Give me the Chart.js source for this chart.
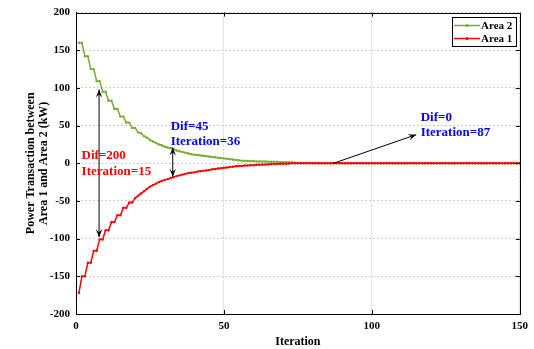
<!DOCTYPE html>
<html>
<head>
<meta charset="utf-8">
<script src="https://cdn.jsdelivr.net/npm/chart.js@4.4.0/dist/chart.umd.min.js"></script>
<style>
html, body { margin: 0; padding: 0; background: #fff; }
</style>
</head>
<body>
<canvas id="chart" width="534" height="349"></canvas>
<script>
var iterations = [1,2,3,4,5,6,7,8,9,10,11,12,13,14,15,16,17,18,19,20,21,22,23,24,25,26,27,28,29,30,
  31,32,33,34,35,36,37,38,39,40,41,42,43,44,45,46,47,48,49,50,51,52,53,54,55,56,57,58,59,60,
  61,62,63,64,65,66,67,68,69,70,71,72,73,74,75,76,77,78,79,80,81,82,83,84,85,86,87,88,89,90,
  91,92,93,94,95,96,97,98,99,100,101,102,103,104,105,106,107,108,109,110,111,112,113,114,115,116,117,118,119,120,
  121,122,123,124,125,126,127,128,129,130,131,132,133,134,135,136,137,138,139,140,141,142,143,144,145,146,147,148,149,150]

var area2 = [160,160,142,142,125,125,109,109,95,95,
  83,83,72,72,62,62,54,54,47,47,
  41,40,36,34,31,29,27,25,24,22,
  21,20,19,17,16,15,14,13,12,11.5,
  11,10.5,10,9.5,9,8.5,8,7.5,7,6.5,
  6,5.5,5,4.5,4,3.5,3.5,3,3,3,
  2.5,2.5,2.5,2.5,2,2,2,2,1.5,1.5,
  1.5,1,1,0.8,0.6,0.5,0.4,0.3,0.3,0.2,
  0.2,0.1,0.1,0.1,0.1,0,0,0,0,0,
  0,0,0,0,0,0,0,0,0,0,0,0,0,0,0,0,0,0,0,0,0,0,0,0,0,0,0,0,0,0,
  0,0,0,0,0,0,0,0,0,0,0,0,0,0,0,0,0,0,0,0,0,0,0,0,0,0,0,0,0,0]

var area1 = [-172,-150,-150,-132,-132,-116,-116,-101,-101,-89,
  -89,-78,-78,-69,-69,-59,-59,-52,-52,-46,
  -43,-40,-37,-34,-31,-29,-27,-25,-23.5,-22,
  -21,-19.5,-18.5,-17,-16,-15,-14,-13,-12.5,-12,
  -11,-10.5,-10,-9.5,-9,-8,-7.5,-7,-6.5,-6,
  -5.5,-5,-4.5,-4,-3.5,-3.5,-3,-3,-2.5,-2.5,
  -2,-2,-1.5,-1.5,-1.5,-1,-1,-1,-0.5,-0.5,
  -0.5,-0.3,0,0,0,0,0,0,0,0,
  0,0,0,0,0,0,0,0,0,0,
  0,0,0,0,0,0,0,0,0,0,0,0,0,0,0,0,0,0,0,0,0,0,0,0,0,0,0,0,0,0,
  0,0,0,0,0,0,0,0,0,0,0,0,0,0,0,0,0,0,0,0,0,0,0,0,0,0,0,0,0,0]

var yTitle = ['Power Transaction between', 'Area 1 and Area 2 (kW)']
var xTitle = 'Iteration'

// arrows and notes, in data units
var arrows = [
  { x1: 7.8, y1: -98, x2: 7.8, y2: 98, both: true },
  { x1: 32.7, y1: -18, x2: 32.7, y2: 21, both: true },
  { x1: 87, y1: 0, x2: 115, y2: 38, both: false }
]
var notes = [
  { x: 1.9, y: 10, text: 'Dif=200', color: '#ff0000' },
  { x: 1.9, y: -11, text: 'Iteration=15', color: '#ff0000' },
  { x: 32, y: 49, text: 'Dif=45', color: '#0000ff' },
  { x: 32, y: 29, text: 'Iteration=36', color: '#0000ff' },
  { x: 116.5, y: 60, text: 'Dif=0', color: '#0000ff' },
  { x: 116.5, y: 40.5, text: 'Iteration=87', color: '#0000ff' }
]

var serif = "'Liberation Serif', 'Times New Roman', serif"
var green = '#77ac30'
var red = '#ff0000'

function arrowHead(c, fx, fy, tx, ty) {
  var a = Math.atan2(ty - fy, tx - fx)
  var len = 8, w = 3.2
  c.beginPath()
  c.moveTo(tx, ty)
  c.lineTo(tx - len * Math.cos(a) + w * Math.sin(a), ty - len * Math.sin(a) - w * Math.cos(a))
  c.lineTo(tx - len * 0.6 * Math.cos(a), ty - len * 0.6 * Math.sin(a))
  c.lineTo(tx - len * Math.cos(a) - w * Math.sin(a), ty - len * Math.sin(a) + w * Math.cos(a))
  c.closePath()
  c.fill()
}

var decorations = {
  id: 'decorations',
  afterDraw: function(chart) {
    var c = chart.ctx
    var a = chart.chartArea
    var xs = chart.scales.x, ys = chart.scales.y
    c.save()
    // box + inward ticks
    c.strokeStyle = '#000'
    c.lineWidth = 1
    c.strokeRect(Math.round(a.left) + 0.5, Math.round(a.top) + 0.5, Math.round(a.right - a.left), Math.round(a.bottom - a.top))
    c.beginPath()
    xs.ticks.forEach(function(t) {
      var px = Math.round(xs.getPixelForValue(t.value)) + 0.5
      c.moveTo(px, a.bottom); c.lineTo(px, a.bottom - 4)
      c.moveTo(px, a.top); c.lineTo(px, a.top + 4)
    })
    ys.ticks.forEach(function(t) {
      var py = Math.round(ys.getPixelForValue(t.value)) + 0.5
      c.moveTo(a.left, py); c.lineTo(a.left + 4, py)
      c.moveTo(a.right, py); c.lineTo(a.right - 4, py)
    })
    c.stroke()

    // arrows
    c.fillStyle = '#000'
    arrows.forEach(function(r) {
      var fx = xs.getPixelForValue(r.x1), fy = ys.getPixelForValue(r.y1)
      var tx = xs.getPixelForValue(r.x2), ty = ys.getPixelForValue(r.y2)
      c.beginPath(); c.moveTo(fx, fy); c.lineTo(tx, ty); c.stroke()
      arrowHead(c, fx, fy, tx, ty)
      if (r.both) arrowHead(c, tx, ty, fx, fy)
    })

    // notes
    c.font = 'bold 13px ' + serif
    c.textAlign = 'left'
    c.textBaseline = 'middle'
    notes.forEach(function(n) {
      c.fillStyle = n.color
      c.fillText(n.text, xs.getPixelForValue(n.x), ys.getPixelForValue(n.y))
    })

    // legend
    var lx = 452, ly = 17, lw = 64, lh = 29
    c.fillStyle = '#fff'
    c.fillRect(lx, ly, lw, lh)
    c.strokeRect(lx + 0.5, ly + 0.5, lw, lh)
    var items = [chart.data.datasets[1], chart.data.datasets[0]]
    c.font = 'bold 11px ' + serif
    items.forEach(function(ds, i) {
      var y = ly + 8.5 + i * 13
      c.strokeStyle = ds.borderColor
      c.lineWidth = 1.5
      c.beginPath(); c.moveTo(lx + 2, y); c.lineTo(lx + 28, y); c.stroke()
      c.fillStyle = ds.borderColor
      c.beginPath(); c.arc(lx + 15, y, 1.5, 0, Math.PI * 2); c.fill()
      c.fillStyle = '#000'
      c.fillText(ds.label, lx + 29, y + 0.5)
    })
    c.restore()
  }
}

var ctx = document.getElementById('chart').getContext('2d')
var chart = new Chart(ctx, {
  type: 'line',
  data: {
    labels: iterations,
    datasets: [
      { label: 'Area 1', data: area1, borderColor: red, backgroundColor: red,
        borderWidth: 1.5, pointRadius: 1.2, pointBorderWidth: 0, pointHoverRadius: 0, tension: 0 },
      { label: 'Area 2', data: area2, borderColor: green, backgroundColor: green,
        borderWidth: 1.5, pointRadius: 1.2, pointBorderWidth: 0, pointHoverRadius: 0, tension: 0 }
    ]
  },
  options: {
    responsive: false,
    animation: false,
    layout: { padding: { top: 12, right: 12, left: 0, bottom: 0 } },
    plugins: { legend: { display: false }, tooltip: { enabled: false } },
    scales: {
      x: {
        type: 'linear', min: 0, max: 150,
        ticks: { stepSize: 50, color: '#000', padding: 6, maxRotation: 0,
          font: { family: serif, size: 11, weight: 'bold' } },
        grid: { color: '#cccccc', drawTicks: false },
        border: { display: true, color: '#000', dash: [2, 2] },
        title: { display: true, text: xTitle, color: '#000', padding: { top: 0, bottom: 0 },
          font: { family: serif, size: 12, weight: 'bold' } },
        afterFit: function(s) { s.height = 35 }
      },
      y: {
        min: -200, max: 200,
        ticks: { stepSize: 50, color: '#000', padding: 6,
          font: { family: serif, size: 11, weight: 'bold' } },
        grid: { color: '#cccccc', drawTicks: false },
        border: { display: true, color: '#000', dash: [2, 2] },
        title: { display: true, text: yTitle, color: '#000', padding: { top: 24, bottom: 0 },
          font: { family: serif, size: 12, weight: 'bold', lineHeight: 1.1 } },
        afterFit: function(s) { s.width = 76 }
      }
    }
  },
  plugins: [decorations]
})
</script>
</body>
</html>
